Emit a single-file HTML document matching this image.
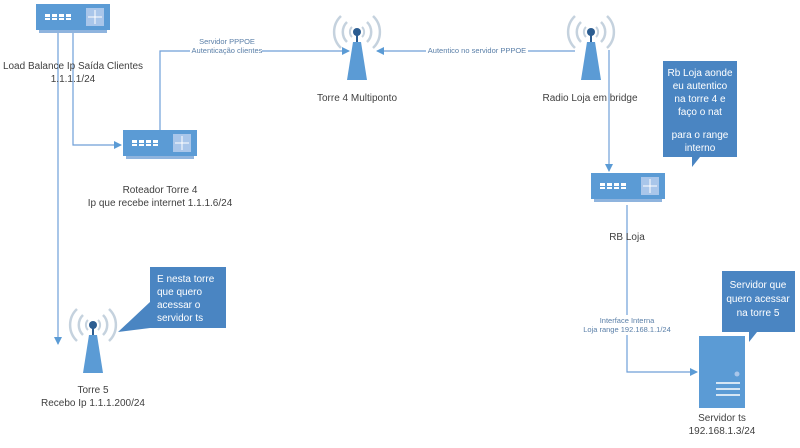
<!DOCTYPE html>
<html><head><meta charset="utf-8"><style>
html,body{margin:0;padding:0;background:#fff;}
svg{display:block;font-family:"Liberation Sans",sans-serif;}
.t{font-size:10px;fill:#404040;text-anchor:middle;}
.s{font-size:7.5px;fill:#5a7fa8;text-anchor:middle;}
.c{font-size:10px;fill:#fff;text-anchor:middle;}
.l{stroke:#6f9fd8;stroke-width:1.2;fill:none;}
</style></head><body>
<svg width="800" height="448" viewBox="0 0 800 448">
<defs>
<g id="rt">
<rect x="0" y="0" width="74" height="26" fill="#5b9bd5"/>
<rect x="3" y="26" width="68" height="3" fill="#8fb4de"/>
<g fill="#fff">
<rect x="9" y="10" width="5" height="3"/><rect x="16" y="10" width="5" height="3"/><rect x="23" y="10" width="5" height="3"/><rect x="30" y="10" width="5" height="3"/>
<rect x="9" y="14" width="5" height="2"/><rect x="16" y="14" width="5" height="2"/><rect x="23" y="14" width="5" height="2"/><rect x="30" y="14" width="5" height="2"/>
</g>
<rect x="50" y="4" width="18" height="18" fill="#a9c6ea"/>
<path d="M52 13h14M59 6v14" stroke="#fff" stroke-width="1"/>
</g>
<g id="tw">
<path d="M-10 -10a14 14 0 0 0 0 20M10 -10a14 14 0 0 1 0 20" stroke="#c5d2de" stroke-width="2.5" fill="none"/>
<path d="M-16 -16a22 22 0 0 0 0 32M16 -16a22 22 0 0 1 0 32" stroke="#c5d2de" stroke-width="2.5" fill="none"/>
<path d="M-5 -5a7 7 0 0 0 0 10M5 -5a7 7 0 0 1 0 10" stroke="#c5d2de" stroke-width="2" fill="none"/>
<rect x="-1" y="0" width="2" height="10" fill="#2c5d91"/>
<circle cx="0" cy="0" r="4" fill="#2c5d91"/>
<path d="M-4 10h8l6 38h-20z" fill="#5b9bd5"/>
</g>
<marker id="a" markerWidth="8" markerHeight="8" refX="7" refY="4" orient="auto" markerUnits="userSpaceOnUse"><path d="M0 0L8 4L0 8z" fill="#5b9bd5"/></marker>
</defs>

<!-- connectors -->
<path class="l" d="M58 33V344" marker-end="url(#a)"/>
<path class="l" d="M73 33V145H121" marker-end="url(#a)"/>
<path class="l" d="M160 130V51H349" marker-end="url(#a)"/>
<path class="l" d="M575 51H377" marker-end="url(#a)"/>
<path class="l" d="M609 50V171" marker-end="url(#a)"/>
<path class="l" d="M627 205V372H697" marker-end="url(#a)"/>

<!-- connector labels -->
<rect x="190" y="36" width="72" height="20" fill="#fff"/>
<text class="s" x="227" y="44">Servidor PPPOE</text>
<text class="s" x="227" y="53">Autenticação clientes</text>
<rect x="426" y="45" width="102" height="10" fill="#fff"/>
<text class="s" x="477" y="53">Autentico no servidor PPPOE</text>
<rect x="585" y="315" width="86" height="20" fill="#fff"/>
<text class="s" x="627" y="323">Interface Interna</text>
<text class="s" x="627" y="332">Loja range 192.168.1.1/24</text>

<!-- routers -->
<use href="#rt" x="36" y="4"/>
<use href="#rt" x="123" y="130"/>
<use href="#rt" x="591" y="173"/>

<!-- towers -->
<use href="#tw" x="357" y="32"/>
<use href="#tw" x="591" y="32"/>
<use href="#tw" x="93" y="325"/>

<!-- server -->
<rect x="699" y="336" width="46" height="72" fill="#5b9bd5"/>
<circle cx="737" cy="374" r="2.5" fill="#a9c6ea"/>
<path d="M716 383h24M716 389h24M716 395h24" stroke="#fff" stroke-width="1.5"/>

<!-- callouts -->
<path d="M663 61h74v96h-37l-8 10v-10h-29z" fill="#4a85c2"/>
<text class="c" x="700" y="76">Rb Loja aonde</text>
<text class="c" x="700" y="89">eu autentico</text>
<text class="c" x="700" y="102">na torre 4  e</text>
<text class="c" x="700" y="115">faço o nat</text>
<text class="c" x="700" y="138">para o range</text>
<text class="c" x="700" y="151">interno</text>

<path d="M722 271h73v61h-38l-8 10v-10h-27z" fill="#4a85c2"/>
<text class="c" x="758" y="288">Servidor que</text>
<text class="c" x="758" y="302">quero acessar</text>
<text class="c" x="758" y="316">na torre 5</text>

<path d="M150 267h76v61h-76l-32 4l32 -30z" fill="#4a85c2"/>
<text class="c" x="157" y="282" style="text-anchor:start">E nesta torre</text>
<text class="c" x="157" y="295" style="text-anchor:start">que quero</text>
<text class="c" x="157" y="308" style="text-anchor:start">acessar o</text>
<text class="c" x="157" y="321" style="text-anchor:start">servidor ts</text>

<!-- labels -->
<text class="t" x="73" y="69">Load Balance  Ip Saída Clientes</text>
<text class="t" x="73" y="82">1.1.1.1/24</text>
<text class="t" x="160" y="193">Roteador Torre 4</text>
<text class="t" x="160" y="206">Ip que recebe internet 1.1.1.6/24</text>
<text class="t" x="357" y="101">Torre 4 Multiponto</text>
<text class="t" x="590" y="101">Radio Loja em bridge</text>
<text class="t" x="627" y="240">RB Loja</text>
<text class="t" x="93" y="393">Torre 5</text>
<text class="t" x="93" y="406">Recebo Ip 1.1.1.200/24</text>
<text class="t" x="722" y="421">Servidor ts</text>
<text class="t" x="722" y="434">192.168.1.3/24</text>
</svg>
</body></html>
